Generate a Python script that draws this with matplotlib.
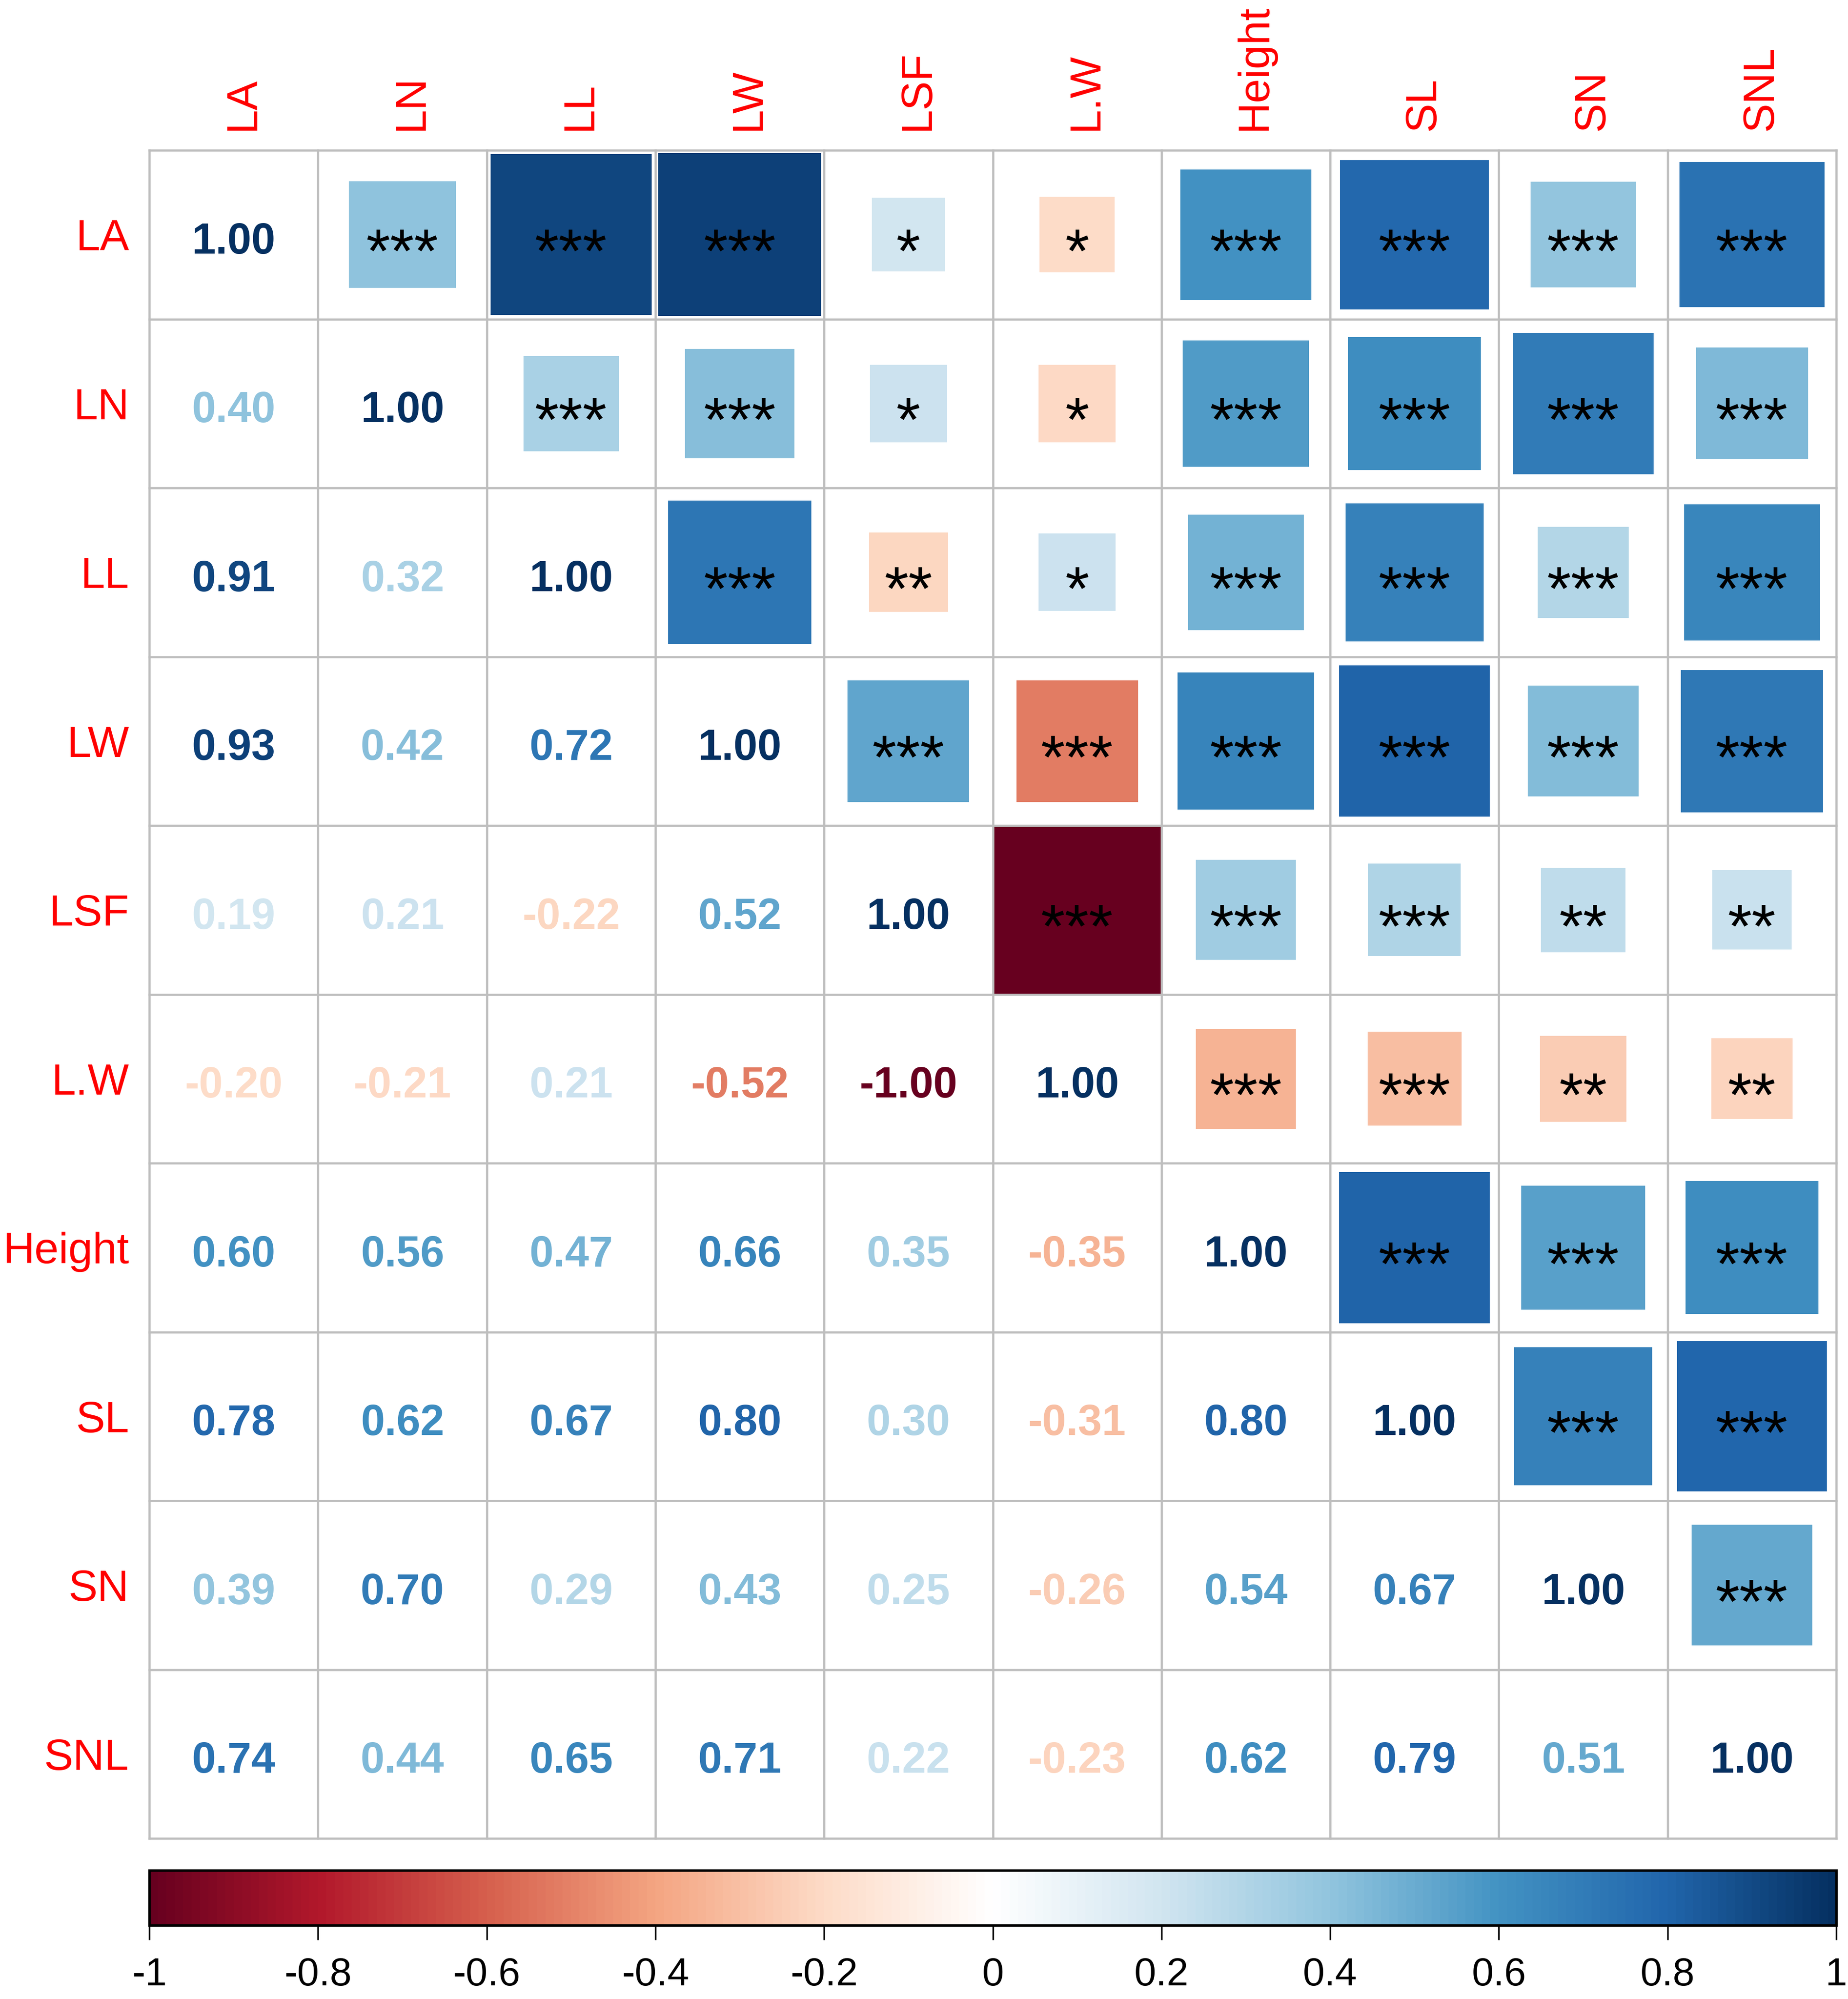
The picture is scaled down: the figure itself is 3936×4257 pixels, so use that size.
import numpy as np
import matplotlib
matplotlib.use("Agg")
import matplotlib.pyplot as plt
from matplotlib.colors import LinearSegmentedColormap, Normalize
from matplotlib.cm import ScalarMappable
from matplotlib.patches import Rectangle

plt.rcParams["font.family"] = ["Liberation Sans", "DejaVu Sans"]

VARS = ["LA", "LN", "LL", "LW", "LSF", "L.W", "Height", "SL", "SN", "SNL"]

# lower triangle, one list per row (row 0 = LA only has the diagonal)
R_LN = [0.40]
R_LL = [0.91, 0.32]
R_LW = [0.93, 0.42, 0.72]
R_LSF = [0.19, 0.21, -0.22, 0.52]
R_LDW = [-0.20, -0.21, 0.21, -0.52, -1.00]
R_HEIGHT = [0.60, 0.56, 0.47, 0.66, 0.35, -0.35]
R_SL = [0.78, 0.62, 0.67, 0.80, 0.30, -0.31, 0.80]
R_SN = [0.39, 0.70, 0.29, 0.43, 0.25, -0.26, 0.54, 0.67]
R_SNL = [0.74, 0.44, 0.65, 0.71, 0.22, -0.23, 0.62, 0.79, 0.51]
LOWER = [R_LN, R_LL, R_LW, R_LSF, R_LDW, R_HEIGHT, R_SL, R_SN, R_SNL]

# significance stars, upper triangle, row i vs columns i+1..
S_LA = ["***", "***", "***", "*", "*", "***", "***", "***", "***"]
S_LN = ["***", "***", "*", "*", "***", "***", "***", "***"]
S_LL = ["***", "**", "*", "***", "***", "***", "***"]
S_LW = ["***", "***", "***", "***", "***", "***"]
S_LSF = ["***", "***", "***", "**", "**"]
S_LDW = ["***", "***", "**", "**"]
S_HEIGHT = ["***", "***", "***"]
S_SL = ["***", "***"]
S_SN = ["***"]
STARS = [S_LA, S_LN, S_LL, S_LW, S_LSF, S_LDW, S_HEIGHT, S_SL, S_SN]

CB_TICKS = [-1, -0.8, -0.6, -0.4, -0.2, 0, 0.2, 0.4, 0.6, 0.8, 1]

# corrplot's default RdBu ramp
cmap = LinearSegmentedColormap.from_list(
    "corr", ["#67001F", "#B2182B", "#D6604D", "#F4A582", "#FDDBC7", "#FFFFFF",
             "#D1E5F0", "#92C5DE", "#4393C3", "#2166AC", "#053061"], N=200)
norm = Normalize(-1, 1)

n = len(VARS)
corr = np.eye(n)
for i, row in enumerate(LOWER, start=1):
    for j, v in enumerate(row):
        corr[i, j] = corr[j, i] = v

W, H = 3937, 4257
fig = plt.figure(figsize=(W / 100, H / 100), dpi=100)
ax = fig.add_axes([318 / W, 1 - 3915 / H, 3593 / W, 3595 / H])
ax.set_xlim(0, n)
ax.set_ylim(n, 0)
ax.axis("off")
PX = 359.4  # pixels per cell


def em(fs):
    return fs * 100 / 72


# upper triangle squares + stars
FS_STAR = 95
for i, row in enumerate(STARS):
    for k, s in enumerate(row):
        j = i + 1 + k
        r = corr[i, j]
        side = np.sqrt(abs(r))
        ax.add_patch(Rectangle((j + 0.5 - side / 2, i + 0.5 - side / 2), side, side,
                               facecolor=cmap(norm(r)), edgecolor="none"))
        yb = i + 0.5 + (7 + 0.549 * em(FS_STAR)) / PX
        ax.text(j + 0.5, yb, s, ha="center", va="baseline", fontsize=FS_STAR, color="black")

# diagonal + lower numbers
FS_NUM = 66
for i in range(n):
    for j in range(i + 1):
        r = corr[i, j]
        yb = i + 0.5 + (7 + 0.358 * em(FS_NUM)) / PX
        ax.text(j + 0.5, yb, f"{r:.2f}", ha="center", va="baseline", fontsize=FS_NUM,
                fontweight="bold", color=cmap(norm(r)))

# grid
for k in range(n + 1):
    ax.plot([k, k], [0, n], color="#BEBEBE", lw=3.3, clip_on=False, solid_capstyle="projecting")
    ax.plot([0, n], [k, k], color="#BEBEBE", lw=3.3, clip_on=False, solid_capstyle="projecting")

# labels
FS_LAB = 67
for i, name in enumerate(VARS):
    ax.text(-43 / PX, i + 0.5 + 0.358 * em(FS_LAB) / PX, name, ha="right", va="baseline",
            fontsize=FS_LAB, color="#FF0000", clip_on=False)
    ax.text(i + 0.5 + (10 + 0.358 * em(FS_LAB)) / PX, -42 / PX, name, rotation=90,
            rotation_mode="anchor", ha="left", va="baseline", fontsize=FS_LAB,
            color="#FF0000", clip_on=False)

# colour legend
cax = fig.add_axes([318 / W, 1 - 4100 / H, 3593 / W, 117 / H])
cb = fig.colorbar(ScalarMappable(norm=norm, cmap=cmap), cax=cax, orientation="horizontal",
                  ticks=CB_TICKS)
cb.outline.set_linewidth(3.8)
cb.outline.set_edgecolor("black")
cb.ax.minorticks_off()
cb.ax.tick_params(length=22, width=2.5, pad=26, color="black")
cb.ax.set_xticklabels([f"{t:g}" for t in CB_TICKS], fontsize=60,
                      family=["Liberation Sans Narrow", "Liberation Sans"])

fig.savefig("out.png", dpi=100, facecolor="white")
